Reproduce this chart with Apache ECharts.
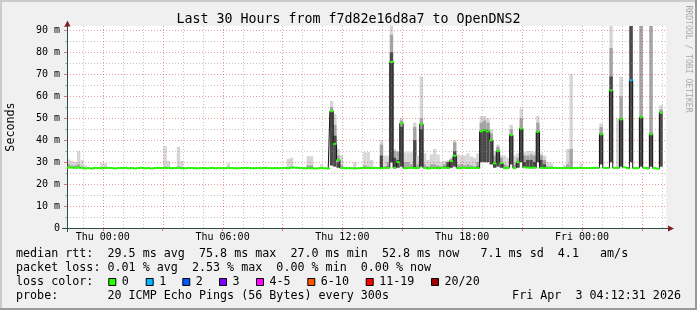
<!DOCTYPE html>
<html><head><meta charset="utf-8">
<script src="https://cdn.jsdelivr.net/npm/echarts@6/dist/echarts.min.js"></script>
<style>html,body{margin:0;padding:0;background:#f0f0f0}#c{width:697px;height:310px}</style>
</head><body><div id="c"></div>
<script>
// time axis in hours relative to Thu 00:00 ; graph spans Wed 22:12:31 .. Fri 04:12:31
const startHour = -1.7914;
const endHour = 28.2086;
const stepHours = 1 / 6; // 10-minute buckets

const xTickHours = [0, 6, 12, 18, 24];
const xTickLabels = ['Thu 00:00', 'Thu 06:00', 'Thu 12:00', 'Thu 18:00', 'Fri 00:00'];
const xMajorGrid = [0, 3, 6, 9, 12, 15, 18, 21, 24, 27];
const xMinorGrid = [-1, 1, 2, 4, 5, 7, 8, 10, 11, 13, 14, 16, 17, 19, 20, 22, 23, 25, 26, 28];

// median rtt (ms) per bucket
const medianVals = [
 27.5,27.5,27.4,27.5,27.4,27.1,27.3,27.1,27.4,27.3,
 27.2,27.4,27.4,27.3,27.1,27.3,27.3,27.4,27.2,27.3,
 27.1,27.3,27.4,27.2,27.3,27.1,27.3,27.4,27.3,27.3,
 27.4,27.2,27.3,27.4,27.2,27.2,27.3,27.3,27.2,27.2,
 27.3,27.2,27.2,27.4,27.2,27.3,27.3,27.2,27.4,27.3,
 27.2,27.2,27.3,27.3,27.4,27.2,27.2,27.3,27.2,27.4,
 27.3,27.2,27.3,27.2,27.3,27.4,27.2,27.5,27.5,27.4,
 27.3,27.2,27.3,27.2,27.1,27.2,27.3,27.2,27.1,53.2,
 38.3,31.0,27.3,27.2,27.3,27.2,27.1,27.2,27.4,27.3,
 27.3,27.3,27.4,27.3,27.2,27.3,27.4,75.6,27.4,30.0,
 47.6,27.2,27.4,27.4,27.3,27.4,47.3,27.4,27.1,27.3,
 27.3,27.2,27.5,27.4,27.3,30.5,32.9,27.3,27.4,27.4,
 27.3,27.4,27.4,27.3,44.0,44.5,44.0,40.0,29.5,35.0,
 29.6,27.3,27.4,42.3,27.3,30.0,45.3,27.6,27.5,27.4,
 27.5,43.8,27.4,27.3,27.3,27.4,27.4,27.3,27.3,27.3,
 27.3,27.2,27.3,27.4,27.3,27.3,27.3,27.3,27.4,27.4,
 42.7,27.4,27.3,62.7,27.4,27.4,49.5,27.6,27.2,67.3,
 27.2,27.3,50.5,27.4,27.1,42.7,27.2,27.0,52.7,null
];
// buckets with packet loss (pings lost of 20)
const lossIdx = [169];
const lossVal = [1];

// smoke (spread of the 20 pings) for buckets where it is visible
const smokeIdx  = [0,1,2,3,4,5,10,11,29,30,33,34,48,66,67,72,73,76,79,80,81,82,86,89,90,91,94,95,96,97,98,99,100,101,102,103,104,105,106,107,108,109,110,111,112,113,114,115,116,117,118,119,120,121,122,123,124,125,126,127,128,129,130,131,132,133,134,135,136,137,138,139,140,141,142,143,144,145,149,150,151,154,160,163,165,166,169,172,175,178];
const smokeLo   = [27.5,27.5,27.4,27.5,27.4,27.1,27.2,27.4,27.3,27.4,27.4,27.2,27.4,27.2,27.5,27.3,27.2,27.3,28.5,28,27.5,27.3,27.1,27.3,27.3,27.3,27.2,27.3,27.4,30,27.4,27.5,28,27.2,27.4,27.4,27.3,27.4,28,27.4,27.1,27.3,27.3,27.2,27.5,27.4,27.3,27.5,28,27.3,27.4,27.4,27.3,27.4,27.4,27.3,30,30,30,29,27.5,28,27.5,27.3,27.4,29,27.3,27.5,30,27.6,27.5,27.4,27.5,30,27.4,27.3,27.3,27.4,27.3,27.3,27.2,27.3,29,30,27.4,28,30,28,28,28];
const smokeDark = [27.5,27.5,27.4,27.5,27.4,27.1,27.2,27.4,27.3,27.4,27.4,27.2,27.4,27.2,27.5,27.3,27.2,27.3,53,42,30,27.3,27.1,27.3,27.3,27.3,33,27.3,28,80,32,31,46,27.2,27.4,27.4,40,27.4,45,27.4,27.1,27.3,27.3,27.2,27.5,28,30,30.5,35,27.3,27.4,27.4,27.3,27.4,27.4,28,44,45,44,40,30,35,30,27.3,27.4,42,27.3,30,45,30,31,31,30,44,31,29,27.3,27.4,27.3,27.3,27.2,27.3,43,69,27.4,50,95,50,43,52];
const smokeMid  = [29,28.5,28.5,29,28,27.1,27.2,27.4,28,27.4,28,27.2,27.4,27.2,28,28.5,28.5,27.3,55,47,33,28.5,27.1,28.5,28,27.3,38,28,30,88,35,34.7,49,30,30,29,46,29,50,29,28,29,29,28.5,28,29,30,31.5,39,29,29,28.5,29,28.5,28,30,48,49,48,43,33,37,32,29,28.5,45,29,32,50,33,33,33.5,33,48,33,31,28,28,27.3,29,36,27.3,46,82,27.4,60,95,95,95,54];
const smokeTop  = [31.2,30.5,30,35,31,28.6,29.5,29.5,37.3,30.5,37,30.5,29.5,31.5,32,32.7,32.7,29,58,52,36,33,30,34.5,34.5,31,40,33,33,95,36,35,50,34.5,34.5,34.5,48,33,69,34,31,33.5,36,33.5,30,30.5,31,32,40,33.5,33,33,34,32.5,32,34,51,51,50,45,35,38,33,33,32,47,33,34,54.5,34.5,35,35,34.5,51,34,33,30,29.5,28.6,36,70,29.5,47.7,95,50,68.8,95,95,95,56];

const lossColors = {0:'#26ff00', 1:'#00b8ff', 2:'#0059ff', 3:'#7e00ff', 5:'#ff00ff', 10:'#ff5500', 19:'#ff0000', 20:'#a10000'};
const legendNames  = ['0','1','2','3','4-5','6-10','11-19','20/20'];
const legendColors = ['#26ff00','#00b8ff','#0059ff','#7e00ff','#ff00ff','#ff5500','#ff0000','#a10000'];

const titleText = 'Last 30 Hours from f7d82e16d8a7 to OpenDNS2';
const statsLine1 = 'median rtt:  29.5 ms avg  75.8 ms max  27.0 ms min  52.8 ms now   7.1 ms sd  4.1   am/s';
const statsLine2 = 'packet loss: 0.01 % avg  2.53 % max  0.00 % min  0.00 % now';
const lossLabel  = 'loss color:';
const probeLine  = 'probe:       20 ICMP Echo Pings (56 Bytes) every 300s';
const dateText   = 'Fri Apr  3 04:12:31 2026';

const FONT = '"DejaVu Sans Mono", monospace';
const bStart = i => startHour + i * stepHours;
const lossOf = i => { const k = lossIdx.indexOf(i); return k < 0 ? 0 : lossVal[k]; };

const lineData = medianVals.map((v, i) => [bStart(i) + stepHours / 2, v]);
const segData = [];
medianVals.forEach((v, i) => { if (v != null) segData.push([bStart(i), bStart(i + 1), v, lossOf(i)]); });
const smokeData = smokeIdx.map((b, k) => [bStart(b), bStart(b + 1), smokeLo[k], smokeDark[k], smokeMid[k], smokeTop[k]]);
const vgrid = xMajorGrid.map(h => [h, 1]).concat(xMinorGrid.map(h => [h, 0]));

const chart = echarts.init(document.getElementById('c'), null, {renderer: 'canvas'});

const legendX = [108.3, 145.7, 182.3, 219, 256, 307.3, 365.7, 431];
const graphics = [
  {type:'rect', shape:{x:0,y:0,width:697,height:2}, style:{fill:'#cbcbcb'}, z:100},
  {type:'rect', shape:{x:0,y:0,width:2,height:310}, style:{fill:'#cbcbcb'}, z:100},
  {type:'rect', shape:{x:0,y:308,width:697,height:2}, style:{fill:'#999999'}, z:100},
  {type:'rect', shape:{x:695,y:0,width:2,height:310}, style:{fill:'#999999'}, z:100},
  // axis extensions and arrows
  {type:'line', shape:{x1:62,y1:228.5,x2:67,y2:228.5}, style:{stroke:'#2c4d43',lineWidth:1}, z:100},
  {type:'line', shape:{x1:666,y1:228.5,x2:668,y2:228.5}, style:{stroke:'#2c4d43',lineWidth:1}, z:100},
  {type:'line', shape:{x1:67.5,y1:228,x2:67.5,y2:232}, style:{stroke:'#2c4d43',lineWidth:1}, z:100},
  {type:'polygon', shape:{points:[[668,225.5],[668,231.5],[674,228.5]]}, style:{fill:'#7f1f1f'}, z:100},
  {type:'polygon', shape:{points:[[64.5,26.5],[70.5,26.5],[67.5,20.5]]}, style:{fill:'#7f1f1f'}, z:100},
  // texts
  {type:'text', x:10.5, y:127, rotation:Math.PI/2, style:{text:'Seconds', font:'11.7px '+FONT, fill:'#000', align:'center', verticalAlign:'middle'}, z:100},
  {type:'text', x:688, y:59, rotation:-Math.PI/2, style:{text:'RRDTOOL / TOBI OETIKER', font:'8.1px '+FONT, fill:'#a8a8a8', align:'center', verticalAlign:'middle'}, z:100},
  {type:'text', x:348.5, y:19.5, style:{text:titleText, font:'13.3px '+FONT, fill:'#000', align:'center', verticalAlign:'middle'}, z:100},
  {type:'text', x:16, y:254.3, style:{text:statsLine1, font:'11.7px '+FONT, fill:'#000', align:'left', verticalAlign:'middle'}, z:100},
  {type:'text', x:16, y:268, style:{text:statsLine2, font:'11.7px '+FONT, fill:'#000', align:'left', verticalAlign:'middle'}, z:100},
  {type:'text', x:16, y:282.2, style:{text:lossLabel, font:'11.7px '+FONT, fill:'#000', align:'left', verticalAlign:'middle'}, z:100},
  {type:'text', x:16, y:296, style:{text:probeLine, font:'11.7px '+FONT, fill:'#000', align:'left', verticalAlign:'middle'}, z:100},
  {type:'text', x:681, y:296, style:{text:dateText, font:'11.7px '+FONT, fill:'#000', align:'right', verticalAlign:'middle'}, z:100}
];
legendNames.forEach((n, k) => {
  graphics.push({type:'rect', shape:{x:legendX[k]+0.5, y:278.5, width:7, height:7}, style:{fill:legendColors[k], stroke:'#000', lineWidth:1}, z:100});
  graphics.push({type:'text', x:legendX[k]+13.5, y:282.2, style:{text:n, font:'11.7px '+FONT, fill:'#000', align:'left', verticalAlign:'middle'}, z:100});
});

chart.setOption({
  backgroundColor: '#f0f0f0',
  animation: false,
  grid: {left:67, right:31, top:26, bottom:82, show:true, backgroundColor:'#ffffff', borderWidth:0, outerBoundsMode:'none'},
  xAxis: {
    type:'value', min:startHour, max:endHour, z:5,
    axisLine:{show:true, onZero:false, lineStyle:{color:'#2c4d43', width:1}},
    axisTick:{show:true, customValues:xMajorGrid, length:3, lineStyle:{color:'rgba(200,40,40,0.6)'}},
    axisLabel:{show:true, customValues:xTickHours, margin:4, fontSize:10, fontFamily:FONT, color:'#000',
      formatter: v => { const k = xTickHours.findIndex(h => Math.abs(h - v) < 1e-6); return k < 0 ? '' : xTickLabels[k]; }},
    splitLine:{show:false}
  },
  yAxis: {
    type:'value', min:0, max:92, interval:10, z:2,
    axisLine:{show:true, onZero:false, lineStyle:{color:'#2c4d43', width:1}},
    axisTick:{show:true, length:3, lineStyle:{color:'rgba(200,40,40,0.6)'}},
    minorTick:{show:true, splitNumber:2, length:2, lineStyle:{color:'rgba(140,140,140,0.6)'}},
    axisLabel:{margin:7, fontSize:10, fontFamily:FONT, color:'#000', showMaxLabel:false,
      formatter: v => v === 0 ? '0' : v + ' m'},
    splitLine:{show:true, showMaxLine:false, showMinLine:false, lineStyle:{color:'rgba(200,40,40,0.45)', type:[1,2], width:1}},
    minorSplitLine:{show:true, lineStyle:{color:'rgba(140,140,140,0.5)', type:[1,2], width:1}}
  },
  graphic: graphics,
  series: [
    {
      name:'smoke', type:'custom', z:1, clip:true, silent:true,
      data: smokeData,
      encode:{x:[0,1], y:[2,3,4,5]},
      renderItem: (params, api) => {
        const x0 = api.value(0), x1 = api.value(1);
        const lo = api.value(2), dk = api.value(3), md = api.value(4), tp = api.value(5);
        const rect = (a, b, color) => {
          const p0 = api.coord([x0, b]), p1 = api.coord([x1, a]);
          return {type:'rect', shape:{x:p0[0], y:p0[1], width:p1[0]-p0[0], height:p1[1]-p0[1]}, style:{fill:color}};
        };
        const ch = [];
        if (tp > lo) ch.push(rect(lo, tp, '#d6d6d6'));
        if (md > lo) ch.push(rect(lo, md, '#a4a4a4'));
        if (dk > lo) ch.push(rect(lo, dk, '#4a4a4a'));
        return {type:'group', children:ch};
      }
    },
    {
      name:'vgrid', type:'custom', z:2, silent:true, clip:true,
      data: vgrid,
      encode:{x:0},
      renderItem: (params, api) => {
        const h = api.value(0), major = api.value(1) === 1;
        const p0 = api.coord([h, 0]), p1 = api.coord([h, 92]);
        const x = Math.round(p0[0]) + 0.5;
        return {type:'line', shape:{x1:x, y1:p0[1], x2:x, y2:p1[1]},
          style:{stroke: major ? 'rgba(200,40,40,0.45)' : 'rgba(140,140,140,0.5)', lineWidth:1, lineDash:[1,2]}};
      }
    },
    {
      name:'median', type:'line', z:3, step:'middle', symbol:'none', silent:true,
      data: lineData, connectNulls:false,
      lineStyle:{color:'#141414', width:1}
    },
    {
      name:'medianColor', type:'custom', z:4, silent:true, clip:true,
      data: segData,
      encode:{x:[0,1], y:2},
      renderItem: (params, api) => {
        const v = api.value(2);
        const p0 = api.coord([api.value(0), v]), p1 = api.coord([api.value(1), v]);
        return {type:'line', shape:{x1:p0[0], y1:p0[1], x2:p1[0], y2:p1[1]},
          style:{stroke: lossColors[api.value(3)], lineWidth:2}};
      }
    }
  ]
});
</script>
</body></html>
